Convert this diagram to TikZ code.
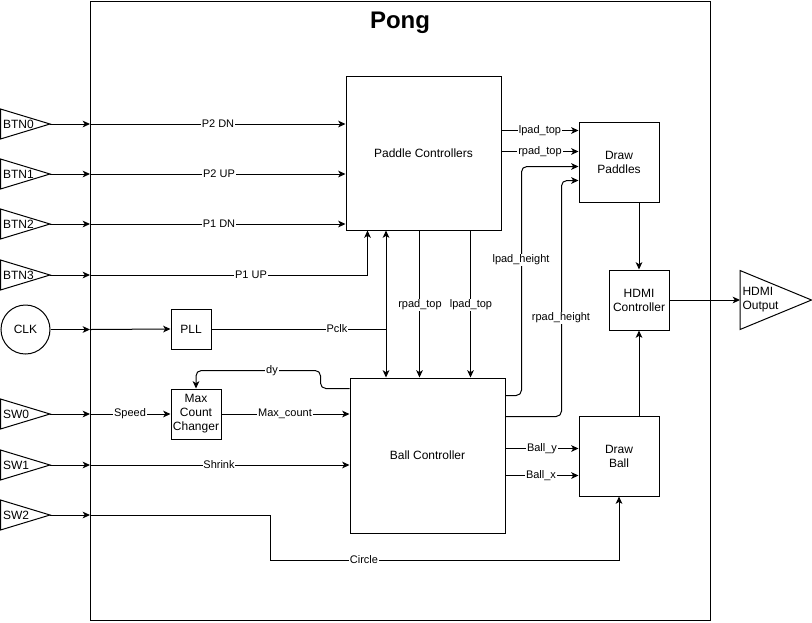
\documentclass[tikz,border=0pt]{standalone}
\usepackage{fontspec}
\setmainfont{Liberation Sans}
\usetikzlibrary{arrows.meta}
\begin{document}
\begin{tikzpicture}[x=0.75pt,y=-0.75pt,
  line width=0.75pt,
  >={Stealth[length=5.5pt,width=5pt,inset=1.5pt]},
  box/.style={draw, inner sep=0pt, font=\fontsize{9}{10.5}\selectfont, align=center},
  lbl/.style={fill=white, inner sep=0.6pt, font=\fontsize{8.25}{9.5}\selectfont},
  txt/.style={inner sep=0pt, font=\fontsize{9}{10.5}\selectfont},
  tri/.style={draw, line join=miter},
  roundwire/.style={->, rounded corners=4pt}
]
\useasboundingbox (0,0) rectangle (812,622);

% frame and title
\node[draw, anchor=north west, inner sep=0pt, minimum width=465pt, minimum height=464.6pt] (frame) at (90,0.5) {};
\node[inner sep=0pt, font=\bfseries\fontsize{18}{20}\selectfont] (title) at (400,23) {Pong};

% blocks
\node[box, minimum width=116.25pt, minimum height=115.5pt] (pc) at (423.5,153) {Paddle Controllers};
\node[box, minimum width=116.25pt, minimum height=116.25pt] (bc) at (427.5,455.5) {Ball Controller};
\node[box, minimum width=30pt, minimum height=30pt] (pll) at (191,329) {PLL};
\node[box, minimum width=37.5pt, minimum height=37.5pt] (mcc) at (196,414) {Max\\Count\\Changer};
\node[box, minimum width=60pt, minimum height=60pt] (dp) at (619,162) {Draw\\Paddles};
\node[box, minimum width=60pt, minimum height=60pt] (db) at (619,456) {Draw\\Ball};
\node[box, minimum width=45pt, minimum height=45pt] (hdmi) at (639,300) {HDMI\\Controller};

% input triangles
\foreach \n/\y in {BTN0/124,BTN1/174,BTN2/224,BTN3/275,SW0/414,SW1/465,SW2/515}{
  \draw[tri] (0.5,\y-15) -- (50,\y) -- (0.5,\y+15) -- cycle;
  \node[txt, anchor=west] (\n) at (2.5,\y) {\n};
  \coordinate (\n o) at (50,\y);
  \coordinate (f\n) at (90,\y);
  \draw[->] (\n o) -- (f\n);
}
% clock
\node[draw, circle, minimum size=36.75pt, inner sep=0pt, txt] (clk) at (25.5,329.5) {CLK};
\coordinate (fCLK) at (90,329.5);
\draw[->] (clk.east) -- (fCLK);

% HDMI output triangle
\draw[tri] (740,270.5) -- (811.5,300) -- (740,329.5) -- cycle;
\coordinate (outL) at (740,300);
\node[txt, anchor=west, align=left] (hout) at (742,300) {HDMI\\Output};

% connectors: buttons
\draw[->] (fBTN0) -- (fBTN0 -| pc.west);
\draw[->] (fBTN1) -- (fBTN1 -| pc.west);
\draw[->] (fBTN2) -- (fBTN2 -| pc.west);
\draw[->] (fBTN3) -| ([xshift=16.5pt]pc.south west);

% clock / pll
\draw[->] (fCLK) -- (pll.west);
\coordinate (pj) at (386,329);
\draw (pll.east) -- (pj);
\draw[->] (pj) -- (pj |- pc.south);
\draw[->] (pj) -- (pj |- bc.north);

% paddle tops down to ball controller
\coordinate (rt) at ([xshift=55.5pt]pc.south west);
\coordinate (lt) at ([xshift=93.75pt]pc.south west);
\draw[->] (rt) -- (rt |- bc.north);
\draw[->] (lt) -- (lt |- bc.north);

% switches
\draw[->] (fSW0) -- (mcc.west);
\draw[->] (mcc.east) -- (mcc.east -| bc.west);
\draw[->] (fSW1) -- (fSW1 -| bc.west);
\draw[->] (fSW2) -- ++(180,0) -- ++(0,45) -| (db.south);
\draw[roundwire] ([yshift=-8.25pt]bc.north west) -- ++(-29,0) -- ++(0,-18) -| (mcc.north);

% paddle controllers to draw paddles
\coordinate (lpt) at ([yshift=-41.25pt]pc.north east);
\coordinate (rpt) at ([yshift=-57pt]pc.north east);
\draw[->] (lpt) -- (lpt -| dp.west);
\draw[->] (rpt) -- (rpt -| dp.west);

% ball controller to draw paddles
\draw[roundwire] ([yshift=-13.5pt]bc.north east) -- ++(16,0) |- ([yshift=-33.75pt]dp.north west);
\draw[roundwire] ([yshift=-29.25pt]bc.north east) -- ++(56,0) |- ([yshift=-44.25pt]dp.north west);

% ball controller to draw ball
\coordinate (by) at ([yshift=-53.25pt]bc.north east);
\coordinate (bx) at ([yshift=-73.5pt]bc.north east);
\draw[->] (by) -- (by -| db.west);
\draw[->] (bx) -- (bx -| db.west);

% to HDMI
\draw[->] (dp.south -| hdmi.north) -- (hdmi.north);
\draw[->] (db.north -| hdmi.south) -- (hdmi.south);
\draw[->] (hdmi.east) -- (outL);

% labels
\node[lbl] (l1) at (218,124) {P2 DN};
\node[lbl] (l2) at (219,174) {P2 UP};
\node[lbl] (l3) at (219,224) {P1 DN};
\node[lbl] (l4) at (251,275) {P1 UP};
\node[lbl] (l5) at (337,329) {Pclk};
\node[lbl] (l6) at (420,305) {rpad\_top};
\node[lbl] (l7) at (471,305) {lpad\_top};
\node[lbl] (l8) at (272,371) {dy};
\node[lbl] (l9) at (130,414) {Speed};
\node[lbl] (l10) at (285,414) {Max\_count};
\node[lbl] (l11) at (219,465) {Shrink};
\node[lbl] (l12) at (364,560) {Circle};
\node[lbl] (l13) at (540,131) {lpad\_top};
\node[lbl] (l14) at (540,152) {rpad\_top};
\node[lbl] (l15) at (521,260) {lpad\_height};
\node[lbl] (l16) at (561,318) {rpad\_height};
\node[lbl] (l17) at (542,449) {Ball\_y};
\node[lbl] (l18) at (541,476) {Ball\_x};
\end{tikzpicture}
\end{document}
